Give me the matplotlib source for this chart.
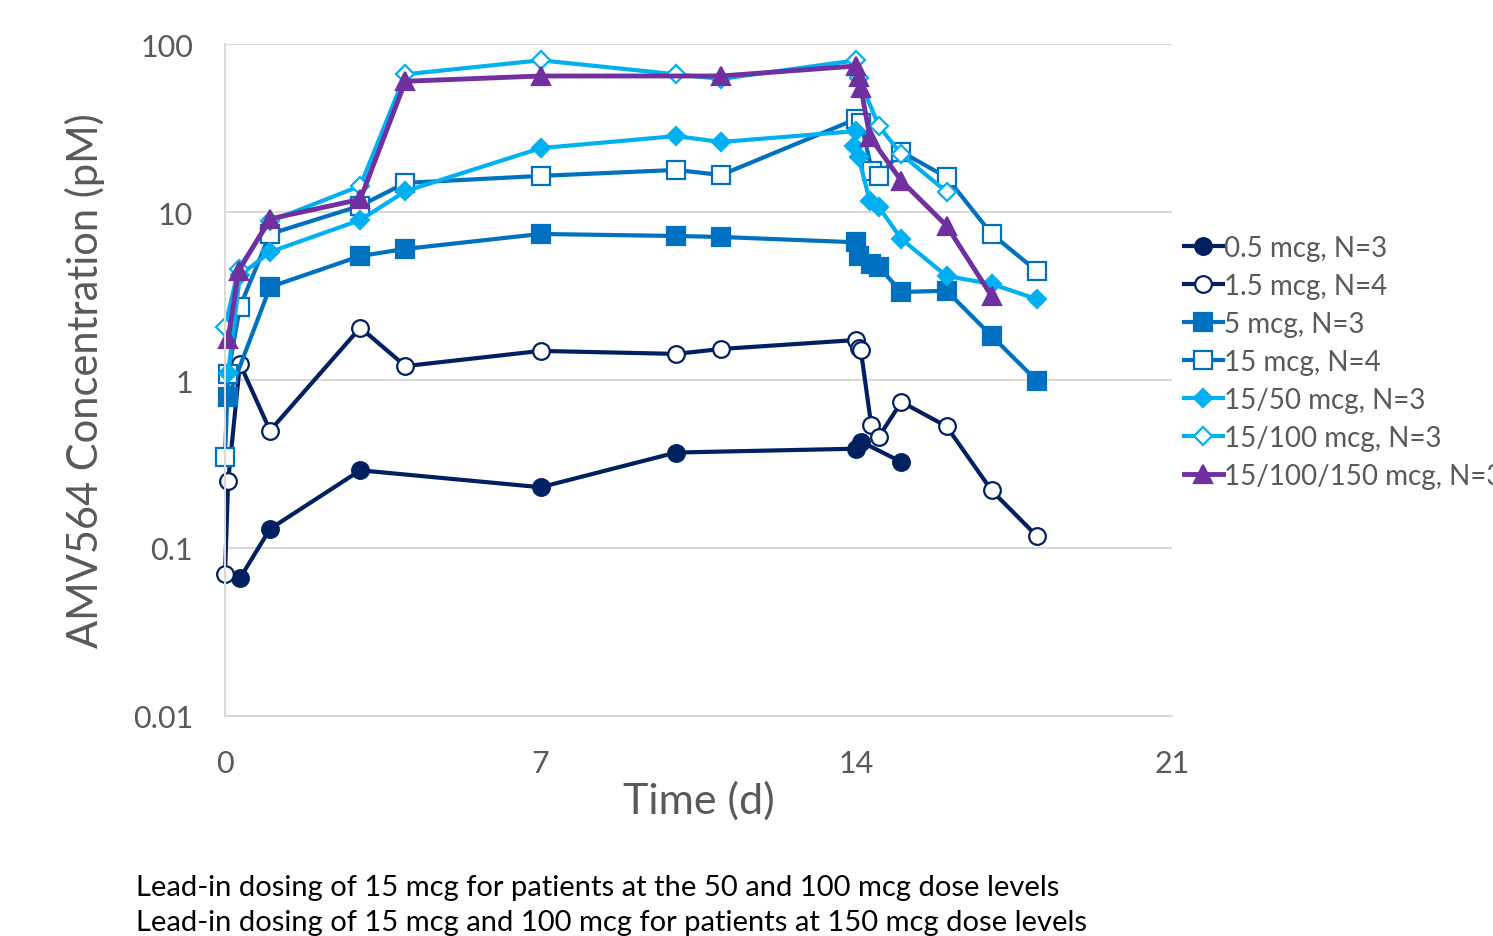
import matplotlib
matplotlib.use("Agg")
import matplotlib.pyplot as plt

plt.rcParams['font.family'] = ['Lato', 'DejaVu Sans']

# ---- data ----
x_05 = [0.33, 1, 3, 7, 10, 14, 14.1, 15]
y_05 = [0.066, 0.13, 0.29, 0.23, 0.37, 0.39, 0.43, 0.325]

x_15 = [0, 0.07, 0.33, 1, 3, 4, 7, 10, 11, 14, 14.05, 14.1, 14.33, 14.5, 15, 16, 17, 18]
y_15 = [0.07, 0.25, 1.25, 0.50, 2.05, 1.21, 1.49, 1.43, 1.53, 1.73, 1.55, 1.50, 0.54, 0.46, 0.74, 0.53, 0.22, 0.118]

x_5 = [0.07, 1, 3, 4, 7, 10, 11, 14, 14.05, 14.33, 14.5, 15, 16, 17, 18]
y_5 = [0.79, 3.58, 5.47, 6.03, 7.4, 7.2, 7.1, 6.6, 5.5, 4.9, 4.7, 3.34, 3.4, 1.83, 0.99]

x_15m = [0, 0.07, 0.33, 1, 3, 4, 7, 10, 11, 14, 14.1, 14.35, 14.5, 15, 16, 17, 18]
y_15m = [0.35, 1.09, 2.72, 7.4, 10.9, 14.9, 16.4, 17.8, 16.6, 35.8, 34, 17.5, 16.4, 22.8, 16.1, 7.4, 4.46]

x_1550 = [0.07, 0.33, 1, 3, 4, 7, 10, 11, 14, 13.95, 14.05, 14.3, 14.5, 15, 16, 17, 18]
y_1550 = [1.1, 4.2, 5.78, 8.96, 13.3, 24, 28.3, 26.1, 30.3, 24.7, 21.2, 11.6, 10.7, 6.9, 4.16, 3.73, 3.03]

x_15100 = [0, 0.3, 1, 3, 4, 7, 10, 11, 14, 14.05, 14.5, 15, 16]
y_15100 = [2.07, 4.6, 8.8, 14.3, 66, 80, 66, 62, 80, 63, 32.5, 22, 13.2]

x_150 = [0.07, 0.3, 1, 3, 4, 7, 11, 14, 14.05, 14.1, 14.3, 15, 16, 17]
y_150 = [1.75, 4.46, 9.1, 11.9, 60, 64.5, 64.5, 74, 64, 55, 28, 15.3, 8.3, 3.16]

labels = ["0.5 mcg, N=3", "1.5 mcg, N=4", "5 mcg, N=3", "15 mcg, N=4",
          "15/50 mcg, N=3", "15/100 mcg, N=3", "15/100/150 mcg, N=3"]
xticks = [0, 7, 14, 21]
yticks = [0.01, 0.1, 1, 10, 100]
ytick_labels = ["0.01", "0.1", "1", "10", "100"]

navy = "#002060"
blue = "#0070C0"
lblue = "#00B0F0"
purple = "#7030A0"
gray = "#595959"

fig = plt.figure(figsize=(14.93, 9.37), dpi=100)
ax = fig.add_axes([225/1493, 1-717/937, (1172-225)/1493, (717-45)/937])

series = [
    (x_05, y_05, navy, 'o', navy, 12, 3),
    (x_15, y_15, navy, 'o', 'white', 12, 3),
    (x_5, y_5, blue, 's', blue, 13, 3),
    (x_15m, y_15m, blue, 's', 'white', 13, 3),
    (x_1550, y_1550, lblue, 'D', lblue, 9.5, 3),
    (x_15100, y_15100, lblue, 'D', 'white', 9.5, 3),
    (x_150, y_150, purple, '^', purple, 13, 3.5),
]
for (xs, ys, c, m, fc, ms, lw), lab in zip(series, labels):
    ax.plot(xs, ys, color=c, marker=m, markerfacecolor=fc, markeredgecolor=c,
            markeredgewidth=1.6, markersize=ms, linewidth=lw, label=lab, clip_on=False)

ax.set_yscale('log')
ax.set_ylim(0.01, 100)
ax.set_xlim(0, 21)
ax.set_xticks(xticks)
ax.set_yticks(yticks)
ax.set_yticklabels(ytick_labels)
ax.minorticks_off()
ax.yaxis.grid(True, color="#D9D9D9", linewidth=1.5)
ax.set_axisbelow(True)
for s in ['top', 'right']:
    ax.spines[s].set_visible(False)
ax.spines['left'].set_color("#D9D9D9")
ax.spines['left'].set_linewidth(1.5)
ax.spines['bottom'].set_color("#D9D9D9")
ax.spines['bottom'].set_linewidth(1.5)
ax.tick_params(axis='both', length=0, labelsize=22, colors=gray)
ax.tick_params(axis='x', pad=24)
ax.tick_params(axis='y', pad=23)
ax.set_xlabel("Time (d)", fontsize=31, color=gray, labelpad=2)
ax.set_ylabel("AMV564 Concentration (pM)", fontsize=30, color=gray, labelpad=20)

leg = fig.legend(loc='upper left', bbox_to_anchor=(1184/1493, 1-236/937), frameon=False,
                 fontsize=20, handlelength=1.4, handletextpad=0.05, labelspacing=0.43,
                 borderaxespad=0, borderpad=0, labelcolor=gray)

fig.text(136/1493, 1-888/937, "Lead-in dosing of 15 mcg for patients at the 50 and 100 mcg dose levels",
         fontsize=21, color='black', va='center', ha='left')
fig.text(136/1493, 1-923/937, "Lead-in dosing of 15 mcg and 100 mcg for patients at 150 mcg dose levels",
         fontsize=21, color='black', va='center', ha='left')

fig.savefig("out.png", dpi=100)
